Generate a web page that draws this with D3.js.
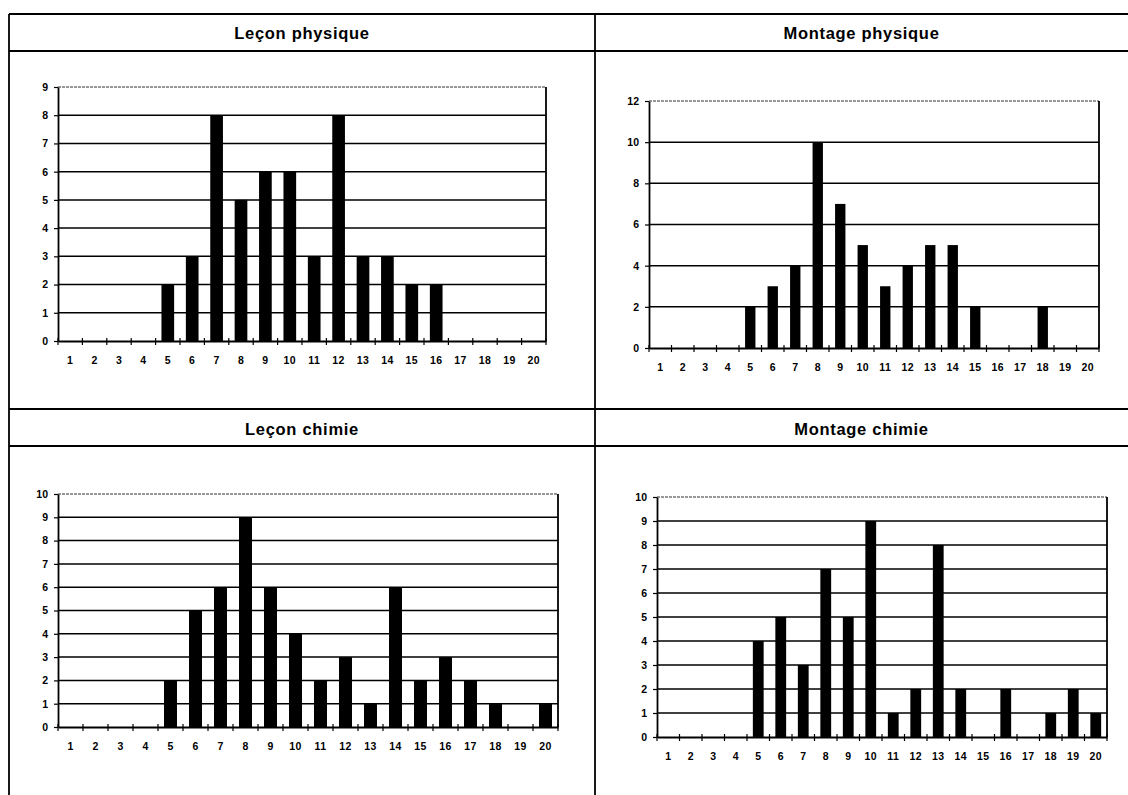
<!DOCTYPE html>
<html>
<head>
<meta charset="utf-8">
<script src="https://cdn.jsdelivr.net/npm/d3@7"></script>
<style>
  body { margin: 0; background: #fff; }
  svg { display: block; }
  text { font-family: "Liberation Sans", Arial, sans-serif; fill: #000; }
</style>
</head>
<body>
<script>
// Marks (1 to 20) and how many candidates obtained each mark
const categories = ["1","2","3","4","5","6","7","8","9","10","11","12","13","14","15","16","17","18","19","20"];
const titles = ["Leçon physique", "Montage physique", "Leçon chimie", "Montage chimie"];

const leconPhysique   = [0,0,0,0,2,3,8,5,6,6,3,8,3,3,2,2,0,0,0,0];
const montagePhysique = [0,0,0,0,2,3,4,10,7,5,3,4,5,5,2,0,0,2,0,0];
const leconChimie     = [0,0,0,0,2,5,6,9,6,4,2,3,1,6,2,3,2,1,0,1];
const montageChimie   = [0,0,0,0,4,5,3,7,5,9,1,2,8,2,0,2,0,1,2,1];

const yTicksLeconPhysique   = [0,1,2,3,4,5,6,7,8,9];
const yTicksMontagePhysique = [0,2,4,6,8,10,12];
const yTicksLeconChimie     = [0,1,2,3,4,5,6,7,8,9,10];
const yTicksMontageChimie   = [0,1,2,3,4,5,6,7,8,9,10];

const W = 1128, H = 795;
const svg = d3.select("body").append("svg").attr("width", W).attr("height", H);

// ---- table frame -------------------------------------------------------
const frame = { left: 9, mid: 595, right: W, top: 14, head1: 51, row2: 409, head2: 446, bottom: H };
const fg = svg.append("g").attr("stroke", "#000").attr("stroke-width", 1.8).attr("fill", "none");
[frame.top, frame.head1, frame.row2, frame.head2].forEach(y =>
  fg.append("line").attr("x1", frame.left).attr("x2", frame.right).attr("y1", y).attr("y2", y));
[frame.left, frame.mid].forEach(x =>
  fg.append("line").attr("x1", x).attr("x2", x).attr("y1", frame.top).attr("y2", frame.bottom));

// ---- panels ------------------------------------------------------------
const panels = [
  { title: titles[0], values: leconPhysique,   ticks: yTicksLeconPhysique,
    cx: (frame.left + frame.mid) / 2,  ty: (frame.top + frame.head1) / 2,
    box: { l: 58,  r: 546,  t: 87,  b: 341 }, labelGap: 16, bar: 0.52 },
  { title: titles[1], values: montagePhysique, ticks: yTicksMontagePhysique,
    cx: (frame.mid + frame.right) / 2, ty: (frame.top + frame.head1) / 2,
    box: { l: 649, r: 1099, t: 101, b: 348 }, labelGap: 16, bar: 0.46 },
  { title: titles[2], values: leconChimie,     ticks: yTicksLeconChimie,
    cx: (frame.left + frame.mid) / 2,  ty: (frame.row2 + frame.head2) / 2 + 1,
    box: { l: 58,  r: 558,  t: 494, b: 727 }, labelGap: 16, bar: 0.52 },
  { title: titles[3], values: montageChimie,   ticks: yTicksMontageChimie,
    cx: (frame.mid + frame.right) / 2, ty: (frame.row2 + frame.head2) / 2 + 1,
    box: { l: 657, r: 1107, t: 497, b: 737 }, labelGap: 16, bar: 0.48 }
];

const tickFont = sel => sel.attr("font-size", 10.5).attr("font-weight", "bold")
  .attr("font-family", "\"Liberation Sans\", Arial, sans-serif").attr("fill", "#000");

panels.forEach(p => {
  const { l, r, t, b } = p.box;
  const g = svg.append("g");

  // panel title
  g.append("text")
    .attr("x", p.cx).attr("y", p.ty)
    .attr("text-anchor", "middle").attr("dominant-baseline", "central")
    .attr("font-size", 16.5).attr("font-weight", "bold").attr("letter-spacing", 0.7)
    .text(p.title);

  const x = d3.scaleBand().domain(categories).range([l, r])
    .paddingInner(1 - p.bar).paddingOuter((1 - p.bar) / 2);
  const step = x.step();
  const yMax = d3.max(p.ticks);
  const y = d3.scaleLinear().domain([0, yMax]).range([b, t]);

  // horizontal grid lines
  g.append("g").selectAll("line")
    .data(p.ticks.filter(v => v > 0 && v < yMax))
    .join("line")
      .attr("x1", l).attr("x2", r)
      .attr("y1", d => y(d)).attr("y2", d => y(d))
      .attr("stroke", "#000").attr("stroke-width", 1.5);

  // top edge of the plot area (fine dotted)
  g.append("line")
    .attr("x1", l).attr("x2", r).attr("y1", y(yMax)).attr("y2", y(yMax))
    .attr("stroke", "#333").attr("stroke-width", 1).attr("stroke-dasharray", "3,1");
  // right edge of the plot area
  g.append("line")
    .attr("x1", r).attr("x2", r).attr("y1", y(yMax)).attr("y2", y(0))
    .attr("stroke", "#000").attr("stroke-width", 1.8);

  // bars
  g.append("g").selectAll("rect")
    .data(categories.map((c, i) => ({ c, v: p.values[i] })).filter(d => d.v > 0))
    .join("rect")
      .attr("x", d => x(d.c)).attr("width", x.bandwidth())
      .attr("y", d => y(d.v)).attr("height", d => y(0) - y(d.v))
      .attr("fill", "#000");

  // y axis
  const ya = g.append("g").attr("transform", `translate(${l},0)`)
    .call(d3.axisLeft(y).tickValues(p.ticks).tickSize(4).tickSizeOuter(0).tickPadding(6));
  ya.select(".domain").attr("stroke", "#000").attr("stroke-width", 1.8);
  ya.selectAll(".tick line").attr("stroke", "#000").attr("stroke-width", 1.2);
  ya.selectAll(".tick text").call(tickFont);

  // x axis: labels centred on each category
  const xa = g.append("g").attr("transform", `translate(0,${b})`)
    .call(d3.axisBottom(x).tickSize(0).tickPadding(p.labelGap).tickSizeOuter(0));
  xa.select(".domain").attr("stroke", "#000").attr("stroke-width", 1.8);
  xa.selectAll(".tick text").call(tickFont).attr("letter-spacing", 0.4);

  // x axis tick marks between categories, crossing the axis line
  const bounds = categories.map(c => x(c) - x.paddingOuter() * step).concat([r]);
  g.append("g").selectAll("line")
    .data(bounds)
    .join("line")
      .attr("x1", d => d).attr("x2", d => d)
      .attr("y1", b - 3).attr("y2", b + 4)
      .attr("stroke", "#000").attr("stroke-width", 1.2);
});
</script>
</body>
</html>
